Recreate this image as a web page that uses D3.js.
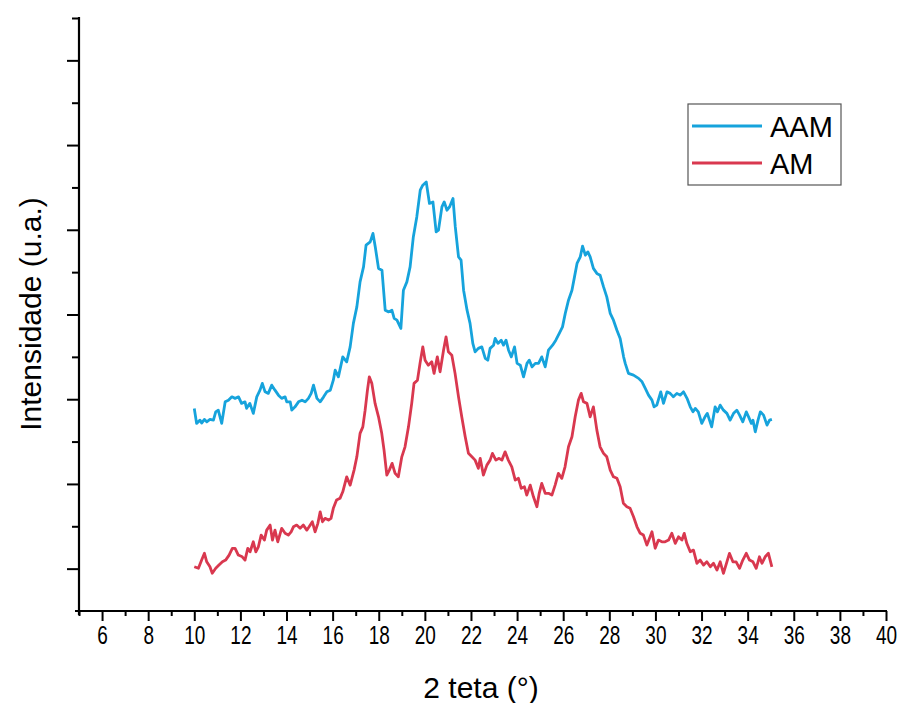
<!DOCTYPE html>
<html>
<head>
<meta charset="utf-8">
<script src="https://cdn.jsdelivr.net/npm/d3@7"></script>
<style>
  html, body { margin: 0; padding: 0; background: #fff; }
  svg { display: block; font-family: "Liberation Sans", Arial, sans-serif; }
</style>
</head>
<body>
<svg id="chart" width="902" height="703"></svg>
<script>
// Diffraction patterns (2θ in degrees, intensity in counts)
const aamTheta = [10.00,10.10,10.25,10.32,10.44,10.54,10.68,10.83,10.93,11.04,11.19,11.34,11.48,11.63,11.77,11.92,12.05,12.20,12.27,12.41,12.56,12.71,12.85,12.95,13.07,13.21,13.36,13.50,13.65,13.79,13.94,14.01,14.16,14.23,14.37,14.52,14.67,14.81,14.95,15.07,15.17,15.32,15.46,15.61,15.75,15.90,16.03,16.11,16.25,16.44,16.61,16.76,16.90,17.05,17.19,17.34,17.45,17.63,17.75,17.85,17.99,18.14,18.28,18.43,18.57,18.67,18.79,18.96,19.07,19.22,19.36,19.50,19.65,19.80,19.91,20.06,20.20,20.35,20.49,20.59,20.74,20.84,20.96,21.07,21.22,21.32,21.46,21.57,21.68,21.83,21.96,22.08,22.18,22.32,22.47,22.62,22.73,22.83,22.98,23.05,23.17,23.31,23.41,23.52,23.63,23.75,23.89,24.00,24.14,24.28,24.43,24.53,24.65,24.79,24.93,25.07,25.22,25.36,25.54,25.68,25.83,25.97,26.09,26.23,26.38,26.49,26.60,26.74,26.84,26.96,27.07,27.17,27.31,27.46,27.60,27.75,27.89,28.04,28.18,28.33,28.47,28.62,28.69,28.83,29.05,29.27,29.42,29.56,29.70,29.85,29.94,30.06,30.23,30.35,30.50,30.64,30.78,30.93,31.07,31.22,31.37,31.51,31.63,31.73,31.86,32.01,32.15,32.25,32.44,32.59,32.69,32.81,32.95,33.10,33.24,33.39,33.53,33.65,33.79,33.94,34.04,34.16,34.23,34.33,34.45,34.55,34.69,34.84,34.95,35.05];
const aamIntensity = [1890,1715,1753,1718,1762,1733,1762,1753,1851,1871,1715,1969,1989,2028,2010,2028,1951,1969,1892,1951,1833,2028,2107,2187,2087,2069,2166,2107,2048,2010,2028,1969,1969,1871,1910,1969,1989,1969,2010,2069,2166,2010,1969,2028,2087,2107,2225,2343,2264,2500,2441,2618,2895,3090,3385,3562,3818,3857,3957,3798,3544,3523,3051,3031,3051,2954,2933,2836,3287,3385,3562,3916,4152,4467,4526,4565,4311,4329,3975,3995,4270,4329,4231,4270,4370,4034,3680,3641,3287,3051,2895,2659,2559,2600,2618,2482,2461,2600,2638,2718,2659,2697,2638,2697,2579,2500,2618,2423,2402,2264,2423,2461,2382,2423,2423,2500,2382,2579,2638,2697,2777,2854,3013,3169,3287,3444,3603,3680,3807,3700,3739,3680,3544,3485,3464,3326,3208,3013,2933,2815,2718,2500,2423,2305,2284,2246,2205,2128,2048,1989,1910,1930,2087,1951,2087,2069,2028,2069,2048,2087,2010,1910,1851,1892,1851,1715,1792,1833,1674,1910,1851,1930,1871,1833,1753,1833,1871,1812,1733,1851,1792,1715,1753,1615,1753,1851,1812,1694,1753,1762];

const amTheta = [10.00,10.18,10.32,10.44,10.54,10.68,10.78,10.93,11.07,11.22,11.36,11.51,11.65,11.77,11.91,12.08,12.20,12.32,12.42,12.56,12.67,12.78,12.90,13.04,13.14,13.29,13.39,13.50,13.62,13.79,13.94,14.08,14.20,14.30,14.44,14.59,14.73,14.88,14.98,15.12,15.24,15.36,15.46,15.56,15.67,15.82,15.93,16.03,16.17,16.32,16.44,16.61,16.76,16.93,17.05,17.19,17.31,17.41,17.51,17.59,17.70,17.84,17.99,18.13,18.23,18.35,18.46,18.58,18.71,18.85,19.00,19.14,19.29,19.43,19.53,19.68,19.79,19.91,20.01,20.15,20.30,20.40,20.54,20.66,20.81,20.92,21.02,21.17,21.31,21.46,21.60,21.75,21.89,22.04,22.18,22.32,22.40,22.54,22.69,22.83,22.93,23.08,23.22,23.34,23.48,23.62,23.77,23.92,24.06,24.18,24.32,24.42,24.57,24.71,24.86,24.96,25.07,25.22,25.36,25.51,25.65,25.79,25.94,26.08,26.23,26.38,26.52,26.66,26.78,26.88,27.03,27.17,27.31,27.46,27.60,27.75,27.89,28.04,28.18,28.33,28.47,28.61,28.76,28.90,29.05,29.20,29.34,29.48,29.63,29.77,29.85,29.99,30.13,30.28,30.42,30.57,30.71,30.86,31.00,31.15,31.25,31.36,31.51,31.65,31.80,31.94,32.09,32.23,32.38,32.52,32.67,32.81,32.95,33.10,33.21,33.36,33.50,33.65,33.79,33.94,34.08,34.23,34.37,34.51,34.62,34.76,34.90,35.05];
const amIntensity = [22,4,101,181,81,22,-55,4,42,81,101,160,240,240,160,140,101,240,199,317,199,258,396,337,455,514,337,455,317,476,417,396,435,494,514,476,514,455,494,553,435,535,671,553,594,573,594,712,810,830,907,1084,986,1163,1320,1597,1674,1871,2107,2264,2187,1951,1792,1597,1399,1104,1163,1243,1125,1084,1320,1438,1674,1951,2187,2225,2423,2618,2461,2402,2441,2305,2500,2323,2579,2736,2559,2520,2305,2028,1792,1556,1361,1320,1281,1184,1302,1104,1222,1281,1361,1281,1302,1281,1379,1281,1202,1045,1066,948,966,868,986,848,730,889,1007,889,889,868,986,1125,1066,1202,1438,1556,1792,1989,2069,1969,1951,1792,1910,1635,1438,1361,1320,1163,1084,1066,966,771,730,712,612,494,417,396,278,376,435,240,337,317,317,337,417,299,376,337,417,299,199,219,63,101,42,81,22,63,-17,81,-55,81,181,81,81,4,101,181,101,81,4,140,63,140,181,22];

const seriesNames = ["AAM", "AM"];
const seriesColors = ["#16a3dc", "#d9384f"];

// Axis ticks
const xMajorTicks = d3.range(6, 41, 2);
const xMinorTicks = d3.range(5, 40, 2);
const yMajorTicks = d3.range(0, 6001, 1000);
const yMinorTicks = d3.range(500, 6501, 1000);

const svg = d3.select("#chart");

const x = d3.scaleLinear().domain([5, 40]).range([79, 886]);
const y = d3.scaleLinear().domain([-500, 6500]).range([611, 18]);

const series = [
  { name: seriesNames[0], color: seriesColors[0], points: d3.zip(aamTheta, aamIntensity) },
  { name: seriesNames[1], color: seriesColors[1], points: d3.zip(amTheta, amIntensity) }
];

const line = d3.line().x(d => x(d[0])).y(d => y(d[1]));

// curves
svg.append("g")
  .selectAll("path")
  .data(series)
  .join("path")
  .attr("d", d => line(d.points))
  .attr("fill", "none")
  .attr("stroke", d => d.color)
  .attr("stroke-width", 2.8)
  .attr("stroke-linejoin", "round");

// x axis
const xAxisG = svg.append("g").attr("transform", `translate(0,${y.range()[0]})`);
xAxisG.append("g")
  .call(d3.axisBottom(x).tickValues(xMinorTicks).tickSize(5).tickFormat(""))
  .call(g => g.select(".domain").remove());
xAxisG.append("g")
  .call(d3.axisBottom(x).tickValues(xMajorTicks).tickSize(10).tickPadding(5).tickFormat(d3.format("d")))
  .call(g => g.select(".domain").remove());
xAxisG.selectAll(".tick line").attr("stroke", "#000").attr("stroke-width", 2);
// narrow tick labels
xAxisG.selectAll(".tick text")
  .attr("fill", "#000")
  .attr("font-size", 25)
  .attr("font-family", "Liberation Sans, Arial, sans-serif")
  .attr("transform", "scale(0.76,1)");
xAxisG.append("line")
  .attr("x1", x.range()[0] - 4).attr("x2", x.range()[1] + 1)
  .attr("y1", 0).attr("y2", 0)
  .attr("stroke", "#000").attr("stroke-width", 2.2);

// y axis (no labels)
const yAxisG = svg.append("g").attr("transform", `translate(${x.range()[0]},0)`);
yAxisG.append("g")
  .call(d3.axisLeft(y).tickValues(yMinorTicks).tickSize(7).tickFormat(""))
  .call(g => g.select(".domain").remove());
yAxisG.append("g")
  .call(d3.axisLeft(y).tickValues(yMajorTicks).tickSize(12).tickFormat(""))
  .call(g => g.select(".domain").remove());
yAxisG.selectAll(".tick line").attr("stroke", "#000").attr("stroke-width", 2);
yAxisG.append("line")
  .attr("x1", 0).attr("x2", 0)
  .attr("y1", y.range()[1] - 1).attr("y2", y.range()[0] + 4)
  .attr("stroke", "#000").attr("stroke-width", 2.2);

// axis titles
svg.append("text")
  .attr("x", 481).attr("y", 698)
  .attr("text-anchor", "middle")
  .attr("font-size", 30)
  .attr("fill", "#000")
  .text("2 teta (°)");

svg.append("text")
  .attr("transform", "translate(41,314) rotate(-90)")
  .attr("text-anchor", "middle")
  .attr("font-size", 30)
  .attr("fill", "#000")
  .text("Intensidade (u.a.)");

// legend
const legend = svg.append("g").attr("transform", "translate(688,104)");
legend.append("rect")
  .attr("width", 153).attr("height", 81)
  .attr("fill", "#fff").attr("stroke", "#555").attr("stroke-width", 1.2);
const item = legend.selectAll("g.item")
  .data(series)
  .join("g")
  .attr("class", "item")
  .attr("transform", (d, i) => `translate(0,${22 + i * 37})`);
item.append("line")
  .attr("x1", 4).attr("x2", 74)
  .attr("stroke", d => d.color).attr("stroke-width", 2.8);
item.append("text")
  .attr("x", 82).attr("y", 11)
  .attr("font-size", 29)
  .attr("fill", "#000")
  .text(d => d.name);
</script>
</body>
</html>
